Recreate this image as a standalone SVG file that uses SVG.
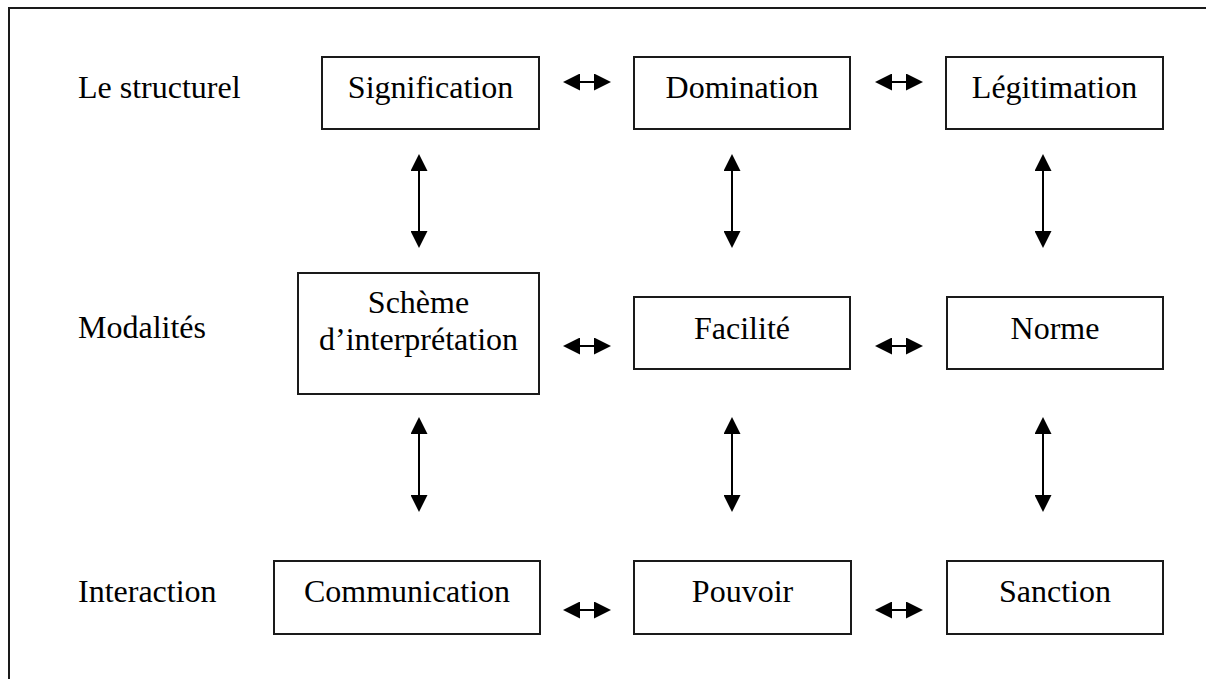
<svg xmlns="http://www.w3.org/2000/svg" width="1206" height="679" viewBox="0 0 1206 679">
<style>
.box{fill:#fff;stroke:#1a1a1a;stroke-width:2}
.t{font-family:"Liberation Serif","Times New Roman",serif;font-size:32px;fill:#000}
.c{text-anchor:middle}
.ln{stroke:#000;stroke-width:2;fill:none;marker-start:url(#ah);marker-end:url(#ah)}
</style>
<defs>
<marker id="ah" markerUnits="userSpaceOnUse" markerWidth="17" markerHeight="17" viewBox="0 0 17 17" refX="15" refY="8.5" orient="auto-start-reverse">
<path d="M0,0 L17,8.5 L0,17 z" fill="#000"/>
</marker>
</defs>
<rect width="1206" height="679" fill="#fff"/>
<path d="M9,679 L9,8 L1206,8" fill="none" stroke="#1a1a1a" stroke-width="2"/>
<g id="labels">
<text class="t" x="78" y="98">Le structurel</text>
<text class="t" x="78" y="338">Modalités</text>
<text class="t" x="78" y="602">Interaction</text>
</g>
<g id="signification"><rect class="box" x="322" y="57" width="217" height="72"/><text class="t c" x="430.5" y="98">Signification</text></g>
<g id="domination"><rect class="box" x="634" y="57" width="216" height="72"/><text class="t c" x="742" y="98">Domination</text></g>
<g id="legitimation"><rect class="box" x="946" y="57" width="217" height="72"/><text class="t c" x="1054.5" y="98">Légitimation</text></g>
<g id="scheme"><rect class="box" x="298" y="273" width="241" height="121"/><text class="t c" x="418.5" y="313">Schème</text><text class="t c" x="418.5" y="350">d’interprétation</text></g>
<g id="facilite"><rect class="box" x="634" y="297" width="216" height="72"/><text class="t c" x="742" y="339">Facilité</text></g>
<g id="norme"><rect class="box" x="947" y="297" width="216" height="72"/><text class="t c" x="1055" y="339">Norme</text></g>
<g id="communication"><rect class="box" x="274" y="561" width="266" height="73"/><text class="t c" x="407" y="602">Communication</text></g>
<g id="pouvoir"><rect class="box" x="634" y="561" width="217" height="73"/><text class="t c" x="742.5" y="602">Pouvoir</text></g>
<g id="sanction"><rect class="box" x="947" y="561" width="216" height="73"/><text class="t c" x="1055" y="602">Sanction</text></g>
<g id="connectors">
<line class="ln" x1="565" y1="82" x2="609" y2="82"/>
<line class="ln" x1="877" y1="82" x2="921" y2="82"/>
<line class="ln" x1="565" y1="346" x2="609" y2="346"/>
<line class="ln" x1="877" y1="346" x2="921" y2="346"/>
<line class="ln" x1="565" y1="610" x2="609" y2="610"/>
<line class="ln" x1="877" y1="610" x2="921" y2="610"/>
<line class="ln" x1="419" y1="156" x2="419" y2="246"/>
<line class="ln" x1="732" y1="156" x2="732" y2="246"/>
<line class="ln" x1="1043" y1="156" x2="1043" y2="246"/>
<line class="ln" x1="419" y1="419" x2="419" y2="510"/>
<line class="ln" x1="732" y1="419" x2="732" y2="510"/>
<line class="ln" x1="1043" y1="419" x2="1043" y2="510"/>
</g>
</svg>
